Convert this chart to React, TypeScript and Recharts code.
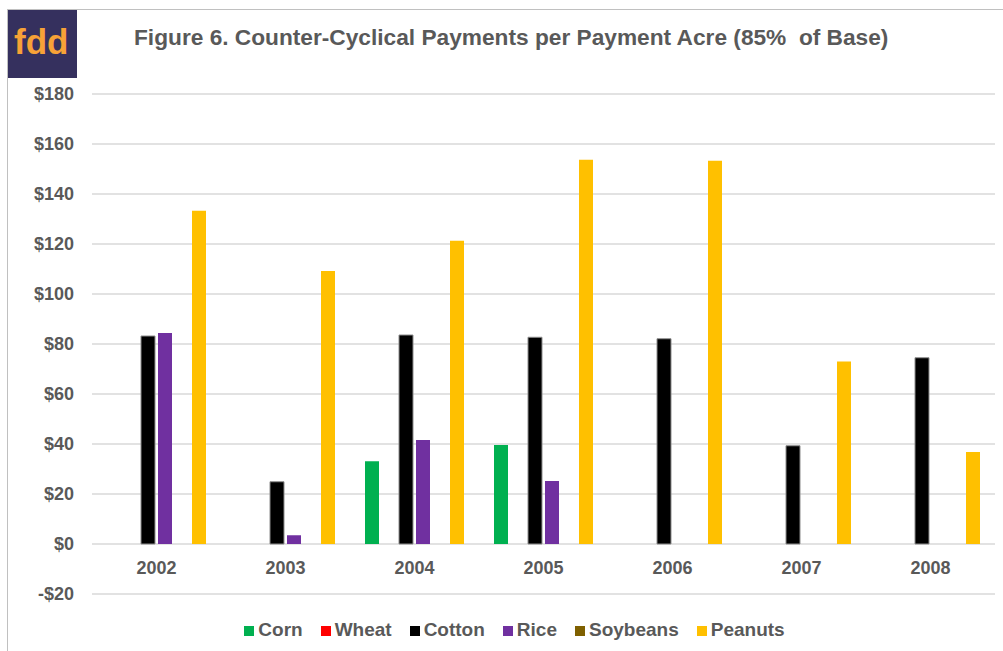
import React from "react";
import { BarChart, Bar, XAxis, YAxis, CartesianGrid, Legend } from "recharts";

const years = ["2002", "2003", "2004", "2005", "2006", "2007", "2008"];
const corn = [0, 0, 33.1, 39.6, 0, 0, 0];
const wheat = [0, 0, 0, 0, 0, 0, 0];
const cotton = [83.2, 24.9, 83.6, 82.7, 82.1, 39.3, 74.5];
const rice = [84.4, 3.5, 41.6, 25.2, 0, 0, 0];
const soybeans = [0, 0, 0, 0, 0, 0, 0];
const peanuts = [133.3, 109.2, 121.3, 153.7, 153.3, 73.0, 36.8];
const yTicks = [-20, 0, 20, 40, 60, 80, 100, 120, 140, 160, 180];
const seriesOrder = ["Corn", "Wheat", "Cotton", "Rice", "Soybeans", "Peanuts"];

const data = years.map((y, i) => ({
  year: y,
  Corn: corn[i],
  Wheat: wheat[i],
  Cotton: cotton[i],
  Rice: rice[i],
  Soybeans: soybeans[i],
  Peanuts: peanuts[i],
}));

const FONT = "'Liberation Sans', Arial, sans-serif";
const GRAY = "#595959";

const fmt = (v: number) => (v < 0 ? `-$${Math.abs(v)}` : `$${v}`);

const XTick = (props: any) => {
  const { x, payload } = props;
  return (
    <text
      x={x}
      y={574}
      textAnchor="middle"
      fill={GRAY}
      fontSize={18}
      fontWeight="bold"
      fontFamily={FONT}
    >
      {payload.value}
    </text>
  );
};

export default function App() {
  return (
    <div
      style={{
        position: "absolute",
        left: 0,
        top: 0,
        width: 1003,
        height: 651,
        background: "#ffffff",
        overflow: "hidden",
        fontFamily: FONT,
      }}
    >
      <style>{`.recharts-legend-item{margin-right:18px !important}`}</style>
      <div
        style={{
          position: "absolute",
          left: 7,
          top: 9,
          width: 1100,
          height: 700,
          borderLeft: "1.5px solid #c0c0c0",
          borderTop: "1.5px solid #c0c0c0",
        }}
      />
      <div
        style={{
          position: "absolute",
          left: 8,
          top: 10,
          width: 69,
          height: 68,
          background: "#35305e",
        }}
      >
        <div
          style={{
            position: "absolute",
            left: 6,
            top: 15,
            fontSize: 35,
            lineHeight: "34px",
            fontWeight: "bold",
            color: "#f7a237",
            fontFamily: FONT,
          }}
        >
          fdd
        </div>
      </div>
      <div
        style={{
          position: "absolute",
          left: 134,
          top: 26,
          fontSize: 22.7,
          lineHeight: "23px",
          fontWeight: "bold",
          color: GRAY,
          whiteSpace: "pre",
          fontFamily: FONT,
        }}
      >
        {"Figure 6. Counter-Cyclical Payments per Payment Acre (85%  of Base)"}
      </div>
      <div style={{ position: "absolute", left: 0, top: 0 }}>
        <BarChart
          width={1003}
          height={651}
          data={data}
          margin={{ top: 94, right: 8, left: 0, bottom: 0 }}
          barSize={14}
          barGap={3}
        >
          <CartesianGrid vertical={false} stroke="#d9d9d9" strokeWidth={1.5} />
          <XAxis
            dataKey="year"
            height={35}
            axisLine={false}
            tickLine={false}
            tick={<XTick />}
            interval={0}
          />
          <YAxis
            width={92}
            domain={[-20, 180]}
            ticks={yTicks}
            tickFormatter={fmt}
            axisLine={false}
            tickLine={false}
            tickMargin={12}
            interval={0}
            tick={{ fill: GRAY, fontSize: 18, fontWeight: "bold", fontFamily: FONT }}
          />
          <Legend
            iconType="square"
            iconSize={10}
            itemSorter={(item: any) => seriesOrder.indexOf(item.value)}
            wrapperStyle={{
              top: 619,
              left: 22,
              width: 1003,
              fontFamily: FONT,
              fontSize: 19,
              fontWeight: "bold",
            }}
            formatter={(value: string) => <span style={{ color: GRAY }}>{value}</span>}
          />
          <Bar dataKey="Corn" fill="#00b050" isAnimationActive={false} />
          <Bar dataKey="Wheat" fill="#ff0000" isAnimationActive={false} />
          <Bar dataKey="Cotton" fill="#000000" stroke="#8c8c8c" strokeWidth={1} isAnimationActive={false} />
          <Bar dataKey="Rice" fill="#7030a0" isAnimationActive={false} />
          <Bar dataKey="Soybeans" fill="#7f6000" isAnimationActive={false} />
          <Bar dataKey="Peanuts" fill="#ffc000" isAnimationActive={false} />
        </BarChart>
      </div>
    </div>
  );
}
